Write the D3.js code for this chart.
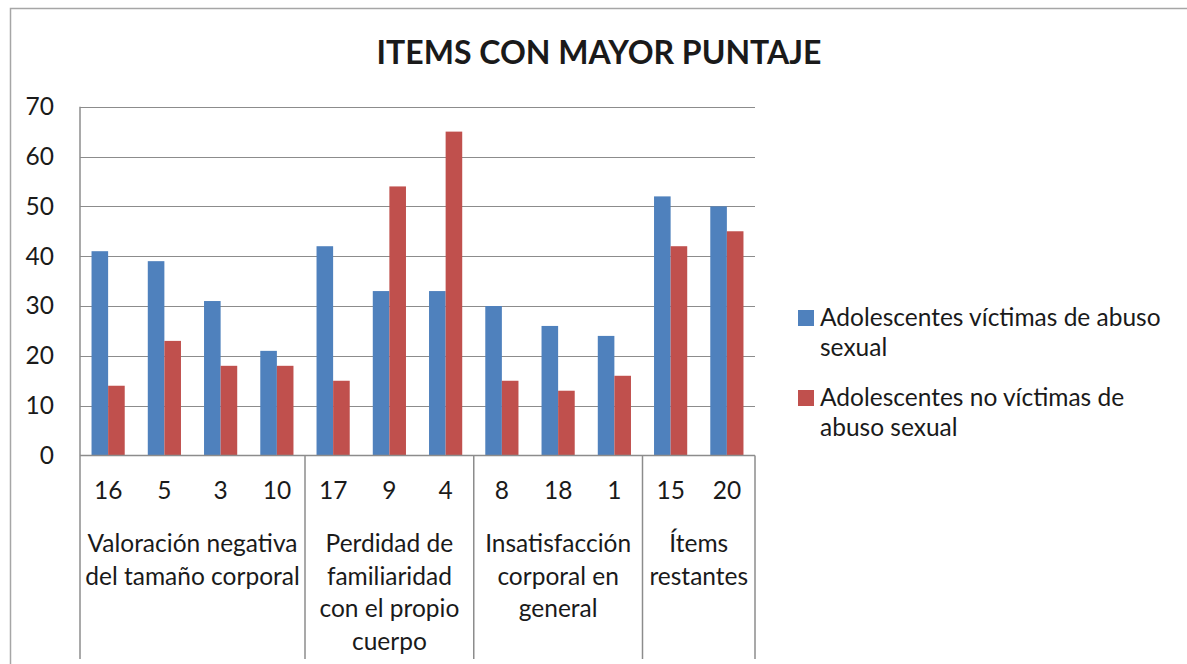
<!DOCTYPE html>
<html>
<head>
<meta charset="utf-8">
<script src="https://cdn.jsdelivr.net/npm/d3@7"></script>
<style>
  html, body { margin: 0; padding: 0; background: #fff; }
  svg { display: block; }
  text { font-family: Lato, "Open Sans", sans-serif; fill: #1a1a1a; }
</style>
</head>
<body>
<svg id="chart" width="1187" height="664"></svg>
<script>
const title = "ITEMS CON MAYOR PUNTAJE";
const items = ["16", "5", "3", "10", "17", "9", "4", "8", "18", "1", "15", "20"];
const groupSizes = [4, 3, 3, 2];
const groupLabels = [
  ["Valoración negativa", "del tamaño corporal"],
  ["Perdidad de", "familiaridad", "con el propio", "cuerpo"],
  ["Insatisfacción", "corporal en", "general"],
  ["Ítems", "restantes"]
];
const seriesNames = [
  ["Adolescentes víctimas de abuso", "sexual"],
  ["Adolescentes no víctimas de", "abuso sexual"]
];
const victimas = [41, 39, 31, 21, 42, 33, 33, 30, 26, 24, 52, 50];
const noVictimas = [14, 23, 18, 18, 15, 54, 65, 15, 13, 16, 42, 45];
const yTicks = [0, 10, 20, 30, 40, 50, 60, 70];
const colors = ["#4F81BD", "#C0504D"];

const FS = 24.5;
const svg = d3.select("#chart");
const L = 80, R = 755, T = 106.7, B = 455.5, bottomEnd = 659;

// outer frame
svg.append("path").attr("d", `M10.5,664 V8.5 H1187`).attr("fill", "none")
  .attr("stroke", "#a6a6a6").attr("stroke-width", 1.5);

const x = d3.scaleBand().domain(items).range([L, R]).paddingInner(0.41).paddingOuter(0.205);
const xSub = d3.scaleBand().domain([0, 1]).range([0, x.bandwidth()]);
const xCat = d3.scaleBand().domain(items).range([L, R]);
const y = d3.scaleLinear().domain([0, 70]).range([B, T]);

// gridlines
svg.append("g").selectAll("line").data(yTicks.filter(d => d > 0)).join("line")
  .attr("x1", L).attr("x2", R).attr("y1", d => Math.round(y(d)) + 0.5).attr("y2", d => Math.round(y(d)) + 0.5)
  .attr("stroke", "#8c8c8c").attr("stroke-width", 1.2);

// y axis
const yAxis = svg.append("g").attr("transform", `translate(${L},0)`)
  .call(d3.axisLeft(y).tickValues(yTicks).tickSize(0).tickPadding(26));
yAxis.select(".domain").remove();
yAxis.selectAll("text").attr("font-size", FS).attr("fill", "#1a1a1a").style("font-family", "Lato");
svg.append("line").attr("x1", L).attr("x2", L).attr("y1", T).attr("y2", bottomEnd)
  .attr("stroke", "#8c8c8c").attr("stroke-width", 1.5);

// bars
const series = [victimas, noVictimas];
series.forEach((vals, si) => {
  svg.append("g").selectAll("rect").data(items).join("rect")
    .attr("x", (d) => x(d) + xSub(si))
    .attr("width", xSub.bandwidth())
    .attr("y", (d, i) => y(vals[i]))
    .attr("height", (d, i) => B - y(vals[i]))
    .attr("fill", colors[si]);
});

// x baseline
svg.append("line").attr("x1", L).attr("x2", R).attr("y1", B).attr("y2", B)
  .attr("stroke", "#8c8c8c").attr("stroke-width", 1.5);

// item labels
const xAxis = svg.append("g").attr("transform", `translate(0,${B})`)
  .call(d3.axisBottom(xCat).tickSize(0).tickPadding(26));
xAxis.select(".domain").remove();
xAxis.selectAll("text").attr("font-size", FS).attr("fill", "#1a1a1a").style("font-family", "Lato");

// group separators and labels
let start = 0;
groupSizes.forEach((n, gi) => {
  const x0 = xCat(items[start]);
  const x1 = xCat(items[start + n - 1]) + xCat.bandwidth();
  svg.append("line").attr("x1", x1).attr("x2", x1).attr("y1", B).attr("y2", bottomEnd)
    .attr("stroke", "#8c8c8c").attr("stroke-width", 1.5);
  const t = svg.append("text").attr("text-anchor", "middle").attr("font-size", FS);
  groupLabels[gi].forEach((line, li) => {
    t.append("tspan").attr("x", (x0 + x1) / 2).attr("y", 552 + li * 32.5).text(line);
  });
  start += n;
});

// title
svg.append("text").attr("x", 599).attr("y", 64).attr("text-anchor", "middle")
  .attr("font-size", 32).attr("font-weight", "bold").attr("fill", "#000").text(title);

// legend
seriesNames.forEach((lines, si) => {
  const ly = 318 + si * 80;
  svg.append("rect").attr("x", 798).attr("y", ly - 8).attr("width", 16).attr("height", 16).attr("fill", colors[si]);
  const t = svg.append("text").attr("font-size", FS);
  lines.forEach((line, li) => {
    t.append("tspan").attr("x", 820).attr("y", ly + 8 + li * 30).text(line);
  });
});
</script>
</body>
</html>
